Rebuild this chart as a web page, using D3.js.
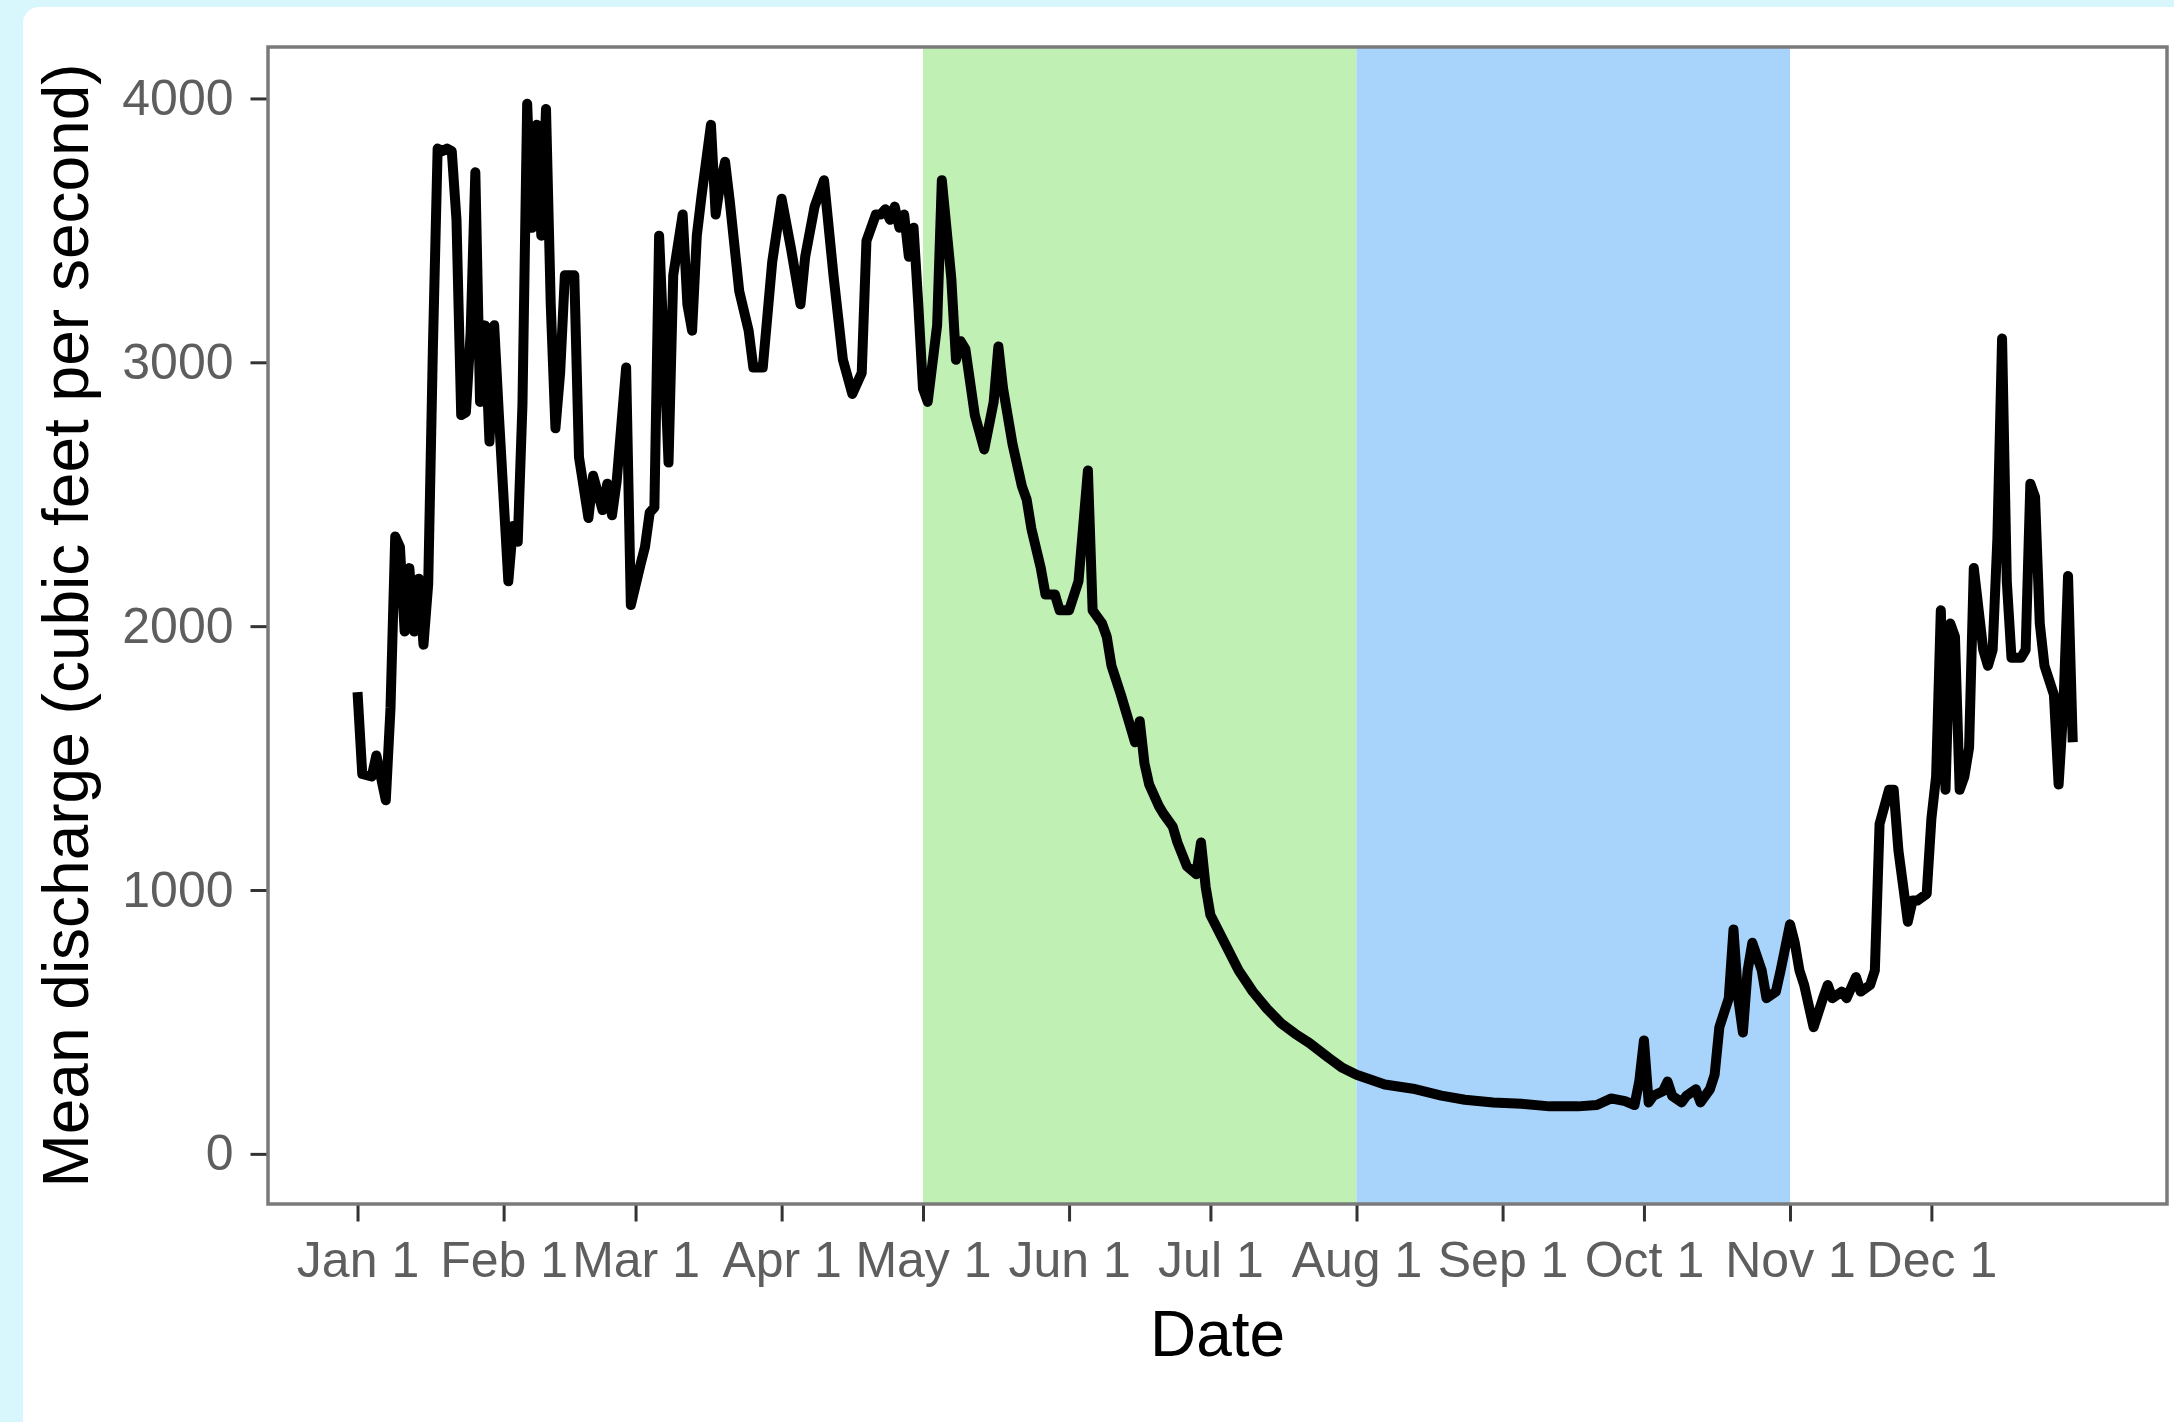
<!DOCTYPE html>
<html>
<head>
<meta charset="utf-8">
<script src="https://cdn.jsdelivr.net/npm/d3@7"></script>
<style>
    body { margin: 0; background: #d8f7fd; width: 2174px; height: 1422px; overflow: hidden; position: relative; font-family: "Liberation Sans", Arial, sans-serif; }
    #card { position: absolute; left: 23px; top: 7px; width: 2200px; height: 1450px; background: #fff; border-radius: 16px; }
    #chart { position: absolute; left: 0; top: 0; }
</style>
</head>
<body>
<div id="card"></div>
<div id="chart"></div>
<script>
// day of year (0 = Jan 1) and mean discharge in cubic feet per second
const dayOfYear = [
    0, 1, 3, 4, 6, 7, 8, 9, 10, 11, 12, 13, 14, 15, 16, 17, 18, 19, 20, 21, 22, 23, 24, 25, 26, 27, 28, 29, 30,
    32, 33, 34, 35, 36, 37, 38, 39, 40, 41, 42, 43, 44, 46, 47, 49, 50, 52, 53, 54, 55, 57, 58,
    60, 61, 62, 63, 64, 65, 66, 67, 69, 70, 71, 72, 73, 75, 76, 77, 78, 79, 81, 83, 84, 86, 88,
    90, 92, 94, 95, 97, 99, 101, 103, 105, 107, 108, 110, 111, 112, 113, 114, 115, 116, 117, 118, 119,
    120, 121, 123, 124, 126, 127, 128, 129, 131, 133, 135, 136, 137, 139, 141, 142, 143, 145, 146, 148, 149,
    151, 153, 155, 156, 158, 159, 160, 162, 164, 165, 166, 167, 168, 170, 171, 173, 174, 176, 178, 179, 180,
    181, 184, 187, 190, 193, 196, 199, 202, 206, 209,
    212, 218, 224, 230, 235, 241,
    247, 253, 259, 263, 266, 269, 271, 272,
    273, 274, 275, 277, 278, 279, 281, 282, 284, 285, 287, 288, 289, 291, 292, 293, 294, 295, 296, 298, 299, 301, 302,
    304, 305, 306, 307, 309, 311, 312, 313, 315, 316, 318, 319, 321, 322, 323, 325, 326, 327, 329, 330, 331, 333,
    334, 335, 336, 337, 338, 339, 340, 341, 342, 343, 345, 346, 347, 348, 349, 350, 351, 353, 354, 355, 356, 357,
    358, 360, 361, 362, 363, 364
];
const discharge = [
    1750, 1440, 1430, 1510, 1340, 1690, 2340, 2300, 1980, 2220, 1980, 2180, 1930, 2160, 3060, 3810, 3800, 3810, 3800, 3540, 2800, 2810, 3110, 3720, 2850, 3140, 2700, 3140, 2800,
    2170, 2380, 2320, 2840, 3980, 3510, 3900, 3480, 3960, 3220, 2750, 2960, 3330, 3330, 2640, 2410, 2570, 2440, 2540, 2420, 2550, 2980, 2080,
    2230, 2300, 2430, 2450, 3480, 3060, 2620, 3330, 3560, 3220, 3120, 3480, 3630, 3900, 3560, 3680, 3760, 3610, 3270, 3120, 2980, 2980, 3380,
    3620, 3430, 3220, 3400, 3590, 3690, 3330, 3010, 2880, 2960, 3460, 3560, 3560, 3580, 3540, 3590, 3510, 3560, 3400, 3510, 3220,
    2900, 2850, 3140, 3690, 3320, 3010, 3080, 3050, 2800, 2670, 2850, 3060, 2900, 2690, 2530, 2480, 2370, 2220, 2120, 2120, 2060,
    2060, 2170, 2590, 2060, 2010, 1960, 1850, 1740, 1620, 1560, 1640, 1480, 1400, 1320, 1290, 1240, 1180, 1090, 1060, 1180, 1010,
    905, 800, 695, 615, 550, 495, 455, 420, 365, 326,
    300, 263, 247, 221, 205, 195,
    190, 180, 180, 185, 210, 200, 185, 274,
    430, 195, 220, 237, 274, 220, 195, 220, 245, 195, 245, 300, 480, 590, 850, 590, 460, 695, 800, 695, 590, 615, 695,
    870, 800, 695, 640, 480, 590, 640, 590, 615, 590, 670, 615, 640, 695, 1250, 1380, 1380, 1150, 880, 960, 960, 985,
    1270, 1430, 2060, 1380, 2010, 1960, 1380, 1430, 1540, 2220, 1910, 1850, 1910, 2330, 3090, 2170, 1880, 1880, 1910, 2540, 2490, 2010,
    1850, 1740, 1400, 1690, 2190, 1560
];

// shaded seasons: [start day, end day]
const seasonNames = ["May–Jul", "Aug–Oct"];
const seasonStart = [120, 212];
const seasonEnd = [212, 304];
const seasonColors = ["#c0f0b4", "#a8d4fc"];

const monthTicks = [0, 31, 59, 90, 120, 151, 181, 212, 243, 273, 304, 334];
const yTicks = [0, 1000, 2000, 3000, 4000];

class DischargeChart {

    constructor(_parentElement) {
        this.parentElement = _parentElement;
        this.yearStart = new Date(2001, 0, 1);
        this.data = dayOfYear.map((d, i) => ({ date: this.toDate(d), value: discharge[i] }));
        this.initVis();
    }

    toDate(day) {
        return d3.timeDay.offset(this.yearStart, day);
    }

    initVis() {
        let vis = this;
        vis.panel = { left: 268, right: 2167, top: 47, bottom: 1204 };

        vis.svg = d3.select(`#${vis.parentElement}`)
            .append("svg")
            .attr("width", 2174)
            .attr("height", 1422);

        // ggplot style padding around the data range
        vis.x = d3.scaleTime()
            .domain([vis.toDate(-19), vis.toDate(384)])
            .range([vis.panel.left, vis.panel.right]);

        vis.y = d3.scaleLinear()
            .domain([-190, 4195])
            .range([vis.panel.bottom, vis.panel.top]);

        vis.svg.append("rect")
            .attr("x", vis.panel.left)
            .attr("y", vis.panel.top)
            .attr("width", vis.panel.right - vis.panel.left)
            .attr("height", vis.panel.bottom - vis.panel.top)
            .attr("fill", "#fff");

        vis.svg.selectAll(".season")
            .data(seasonNames)
            .enter().append("rect")
            .attr("class", "season")
            .attr("x", (d, i) => vis.x(vis.toDate(seasonStart[i])))
            .attr("width", (d, i) => vis.x(vis.toDate(seasonEnd[i])) - vis.x(vis.toDate(seasonStart[i])))
            .attr("y", vis.panel.top)
            .attr("height", vis.panel.bottom - vis.panel.top)
            .attr("fill", (d, i) => seasonColors[i]);

        vis.line = d3.line()
            .x(d => vis.x(d.date))
            .y(d => vis.y(d.value));

        vis.svg.append("path")
            .datum(vis.data)
            .attr("d", vis.line)
            .attr("fill", "none")
            .attr("stroke", "#000")
            .attr("stroke-width", 10)
            .attr("stroke-linejoin", "round")
            .attr("stroke-linecap", "butt");

        // panel border
        vis.svg.append("rect")
            .attr("x", vis.panel.left)
            .attr("y", vis.panel.top)
            .attr("width", vis.panel.right - vis.panel.left)
            .attr("height", vis.panel.bottom - vis.panel.top)
            .attr("fill", "none")
            .attr("stroke", "#7a7a7a")
            .attr("stroke-width", 3.5);

        vis.drawAxes();
    }

    drawAxes() {
        let vis = this;

        let xAxis = d3.axisBottom(vis.x)
            .tickValues(monthTicks.map(d => vis.toDate(d)))
            .tickFormat(d3.timeFormat("%b %-d"))
            .tickSize(16)
            .tickPadding(20);

        let yAxis = d3.axisLeft(vis.y)
            .tickValues(yTicks)
            .tickFormat(d3.format("d"))
            .tickSize(16)
            .tickPadding(17);

        let gx = vis.svg.append("g")
            .attr("transform", `translate(0, ${vis.panel.bottom + 1.5})`)
            .call(xAxis);
        let gy = vis.svg.append("g")
            .attr("transform", `translate(${vis.panel.left - 1.5}, 0)`)
            .call(yAxis);

        [gx, gy].forEach(g => {
            g.select(".domain").remove();
            g.selectAll(".tick line").attr("stroke", "#333").attr("stroke-width", 3);
            g.selectAll(".tick text")
                .attr("fill", "#5e5e5e")
                .style("font-size", "50px")
                .style("font-family", "'Liberation Sans', Arial, sans-serif");
        });

        vis.svg.append("text")
            .attr("x", (vis.panel.left + vis.panel.right) / 2)
            .attr("y", 1356)
            .attr("text-anchor", "middle")
            .style("font-size", "64px")
            .attr("fill", "#000")
            .text("Date");

        vis.svg.append("text")
            .attr("transform", `translate(88, ${(vis.panel.top + vis.panel.bottom) / 2}) rotate(-90)`)
            .attr("text-anchor", "middle")
            .style("font-size", "64px")
            .attr("fill", "#000")
            .text("Mean discharge (cubic feet per second)");
    }
}

new DischargeChart("chart");
</script>
</body>
</html>
